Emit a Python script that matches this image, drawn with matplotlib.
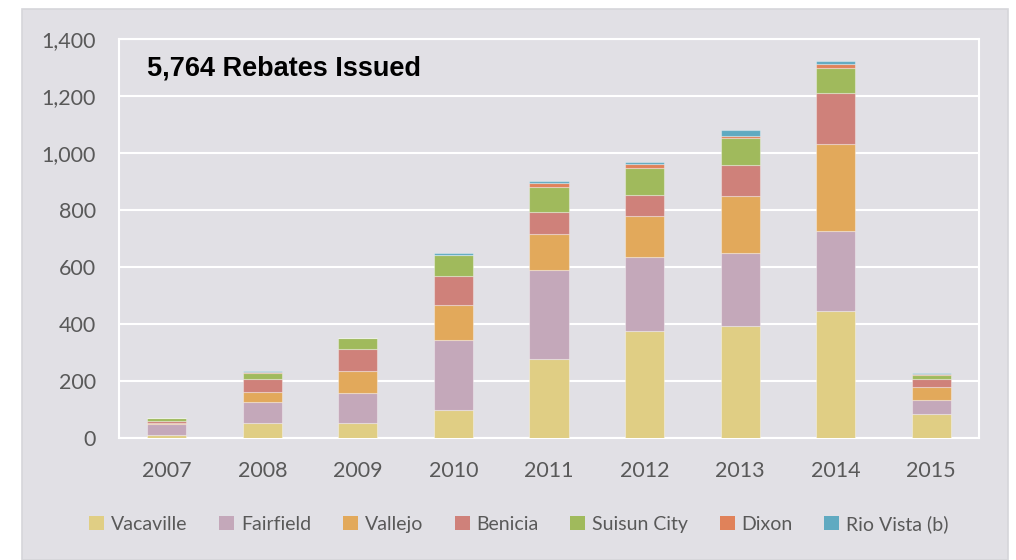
import numpy as np
import matplotlib
matplotlib.use('Agg')
import matplotlib.pyplot as plt
from matplotlib.patches import Rectangle, Patch

plt.rcParams['font.family'] = ['Lato', 'DejaVu Sans']

# rebates issued per year, by city
years = ['2007', '2008', '2009', '2010', '2011', '2012', '2013', '2014', '2015']
cities = ['Vacaville', 'Fairfield', 'Vallejo', 'Benicia', 'Suisun City',
          'Dixon', 'Rio Vista (b)']
vacaville = [8, 51, 51, 96, 276, 373, 393, 443, 82]
fairfield = [38, 74, 104, 247, 314, 261, 254, 283, 51]
vallejo = [5, 35, 78, 124, 124, 145, 203, 304, 43]
benicia = [7, 44, 78, 100, 79, 72, 107, 180, 28]
suisun = [9, 23, 37, 73, 88, 96, 96, 88, 16]
dixon = [1, 2, 0, 2, 14, 13, 7, 13, 3]
rio_vista = [0, 5, 0, 7, 6, 8, 22, 10, 5]
colors = ['#E0CE84', '#C4A8BA', '#E2A95B', '#CF817A', '#A0BA5C',
          '#E0825A', '#60AAC1']
title = '5,764 Rebates Issued'
yticks = [0, 200, 400, 600, 800, 1000, 1200, 1400]

series = [vacaville, fairfield, vallejo, benicia, suisun, dixon, rio_vista]

W, H = 1016, 560
bg = '#E1E0E5'
txt = '#595959'

fig = plt.figure(figsize=(W / 100, H / 100), dpi=100)
fig.patch.set_facecolor('white')
# gray chart panel
fig.patches.append(Rectangle((22 / W, 0), (1008 - 22) / W, (H - 9) / H,
                             transform=fig.transFigure, facecolor=bg,
                             edgecolor='#D6D6DA', linewidth=1.2, zorder=-5))

ax = fig.add_axes([119 / W, (H - 437.5) / H, (979 - 119) / W, (437.5 - 39) / H])
ax.set_facecolor(bg)

x = np.arange(len(years))
bottom = np.zeros(len(years))
for name, vals, c in zip(cities, series, colors):
    vals = np.array(vals, dtype=float)
    ax.bar(x, vals, width=0.41, bottom=bottom, color=c, label=name,
           edgecolor=(1, 1, 1, 0.35), linewidth=0.8, zorder=3)
    bottom += vals

ax.set_xlim(-0.5, len(years) - 0.5)
ax.set_ylim(0, 1400)
ax.set_yticks(yticks)
ax.set_yticklabels(['{:,}'.format(v) for v in yticks])
ax.set_xticks(x)
ax.set_xticklabels(years)
ax.tick_params(axis='y', length=0, pad=16.5, labelsize=15.5, labelcolor=txt)
ax.tick_params(axis='x', length=0, pad=17, labelsize=15.5, labelcolor=txt)
ax.yaxis.grid(True, color='white', linewidth=1.5, zorder=1)
ax.set_axisbelow(True)
for s in ax.spines.values():
    s.set_color('white')
    s.set_linewidth(1.5)

fig.text(147 / W, 1 - 69 / H, title, fontsize=19.5, fontweight='bold',
         family=['Liberation Sans', 'DejaVu Sans'], color='black', va='center')

handles = [Patch(facecolor=c, edgecolor='none') for c in colors]
fig.legend(handles, cities, loc='center', bbox_to_anchor=(519 / W, 1 - 524 / H),
           ncol=7, frameon=False, fontsize=14, labelcolor=txt,
           handlelength=0.77, handleheight=0.77, handletextpad=0.36,
           columnspacing=1.62, borderaxespad=0)

fig.savefig('out.png', dpi=100, facecolor='white')
